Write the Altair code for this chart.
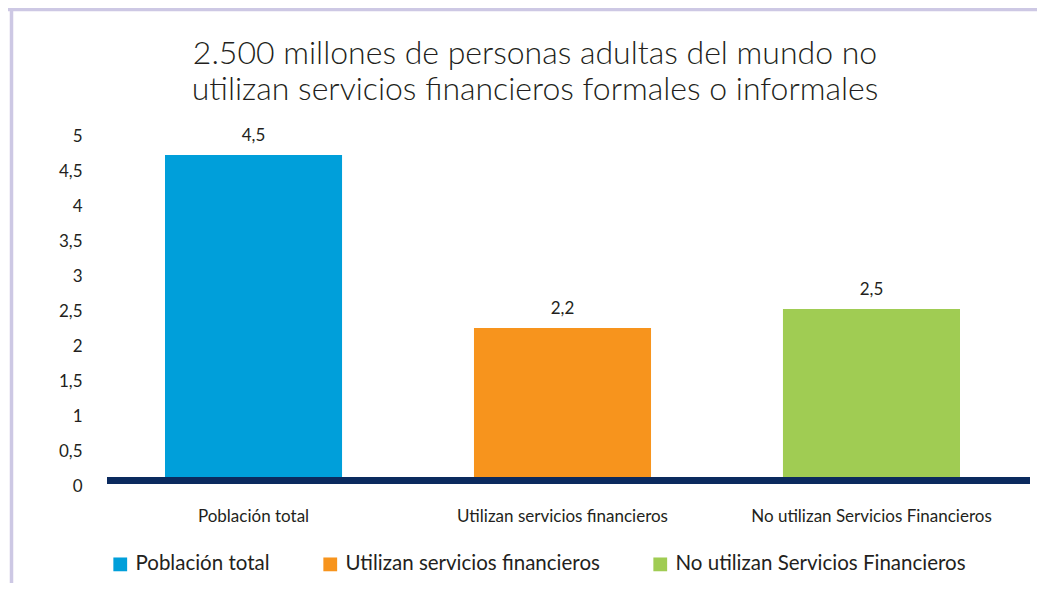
import altair as alt
import pandas as pd

categories = ["Población total", "Utilizan servicios financieros", "No utilizan Servicios Financieros"]
values = [4.7, 2.23, 2.5]
value_labels = ["4,5", "2,2", "2,5"]
colors = ["#009fda", "#f7941d", "#a0cc53"]
y_ticks = [0, 0.5, 1, 1.5, 2, 2.5, 3, 3.5, 4, 4.5, 5]
title_text = "2.500 millones de personas adultas del mundo no\nutilizan servicios financieros formales o informales"

df = pd.DataFrame({"cat": categories, "val": values, "lab": value_labels})
one = pd.DataFrame({"z": [0]})
tdf = pd.DataFrame({"t": [title_text]})

FONT = "Lato"
TXT = "#231f20"

x = alt.X("cat:N", sort=categories,
          scale=alt.Scale(paddingInner=0.427, paddingOuter=0.2136),
          axis=alt.Axis(title=None, labelAngle=0, domain=False, ticks=False,
                        labelFontSize=17, labelPadding=24, labelFont=FONT,
                        labelColor=TXT, labelLimit=0))
y_scale = alt.Scale(domain=[0, 5], nice=False)
y_axis = alt.Axis(title=None, values=y_ticks, grid=False, domain=False,
                  ticks=False, labelPadding=17, labelFontSize=17,
                  labelFont=FONT, labelColor=TXT, labelOffset=2,
                  labelOverlap=False,
                  labelExpr="replace(format(datum.value, '~g'), '.', ',')")
y = alt.Y("val:Q", scale=y_scale, axis=y_axis)

base = alt.Chart(df).encode(x=x, y=y)

bars = base.mark_bar().encode(
    color=alt.Color("cat:N", sort=categories,
                    scale=alt.Scale(domain=categories, range=colors),
                    legend=alt.Legend(title=None, orient="none", legendX=11, legendY=420,
                                      direction="horizontal", columns=3,
                                      symbolType="square", symbolSize=190,
                                      symbolStrokeWidth=0, symbolOpacity=1,
                                      labelFontSize=20.5, labelFont=FONT, labelColor=TXT,
                                      labelLimit=0,
                                      columnPadding=50, labelOffset=5, padding=0))
)

text = base.mark_text(dy=-19, fontSize=17, font=FONT, color=TXT).encode(text="lab:N")

baseline = alt.Chart(one).mark_rule(color="#0b2a5e", strokeWidth=7, yOffset=-3.5).encode(
    y=alt.Y(datum=0, scale=y_scale, axis=y_axis), x=alt.value(8), x2=alt.value(931))

frame_left = alt.Chart(one).mark_rule(color="#cdc8e4", strokeWidth=3.5).encode(
    x=alt.value(-87.5), y=alt.value(-126), y2=alt.value(470))
frame_top = alt.Chart(one).mark_rule(color="#cdc8e4", strokeWidth=3.5).encode(
    y=alt.value(-124.5), x=alt.value(-91), x2=alt.value(945))

title = alt.Chart(tdf).mark_text(fontSize=32, font=FONT, fontWeight=300, color=TXT,
                                 lineBreak="\n", lineHeight=36, align="center",
                                 baseline="middle").encode(
    x=alt.value(436), y=alt.value(-80), text="t:N")

chart = alt.layer(bars, text, baseline, frame_left, frame_top, title).properties(
    width=927, height=350,
    autosize=alt.AutoSizeParams(type="none"),
    padding={"left": 91, "top": 126, "right": 11, "bottom": 99},
).configure_view(stroke=None)

chart.save("out.html", embed_options={"renderer": "svg", "actions": False})
